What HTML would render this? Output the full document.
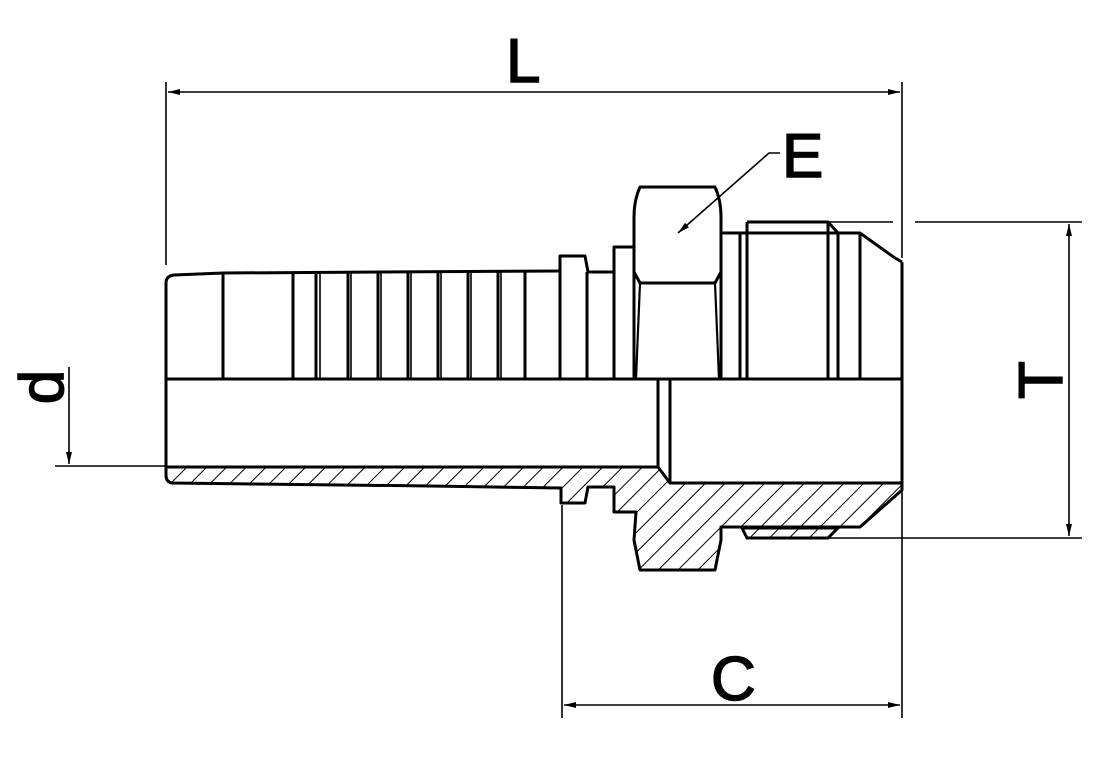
<!DOCTYPE html>
<html><head><meta charset="utf-8"><style>html,body{margin:0;padding:0;background:#fff}svg{display:block}text{font-family:"Liberation Sans",sans-serif;fill:#000;stroke:#000;stroke-width:1.5}</style></head><body>
<svg width="1104" height="765" viewBox="0 0 1104 765" xmlns="http://www.w3.org/2000/svg">
<defs>
<pattern id="h" width="14" height="14" patternUnits="userSpaceOnUse" patternTransform="rotate(45)">
<line x1="0" y1="0" x2="0" y2="14" stroke="#000" stroke-width="2"/>
</pattern>
<marker id="a" viewBox="0 0 12 6" refX="12" refY="3" markerWidth="12" markerHeight="6" markerUnits="userSpaceOnUse" orient="auto-start-reverse"><path d="M0,0 L12,3 L0,6 Z" fill="#000"/></marker>
</defs>
<g fill="none" stroke="#000" stroke-width="1.6">
<line x1="166" y1="82" x2="166" y2="265"/>
<line x1="902" y1="82" x2="902" y2="258"/>
<line x1="168" y1="92" x2="900" y2="92" marker-start="url(#a)" marker-end="url(#a)"/>
<polyline points="780,153 769,153 678,233" marker-end="url(#a)"/>
<line x1="828" y1="222" x2="893" y2="222"/>
<line x1="915" y1="222" x2="1082" y2="222"/>
<line x1="828" y1="538" x2="1082" y2="538"/>
<line x1="1069" y1="224" x2="1069" y2="536" marker-start="url(#a)" marker-end="url(#a)"/>
<line x1="55" y1="466" x2="166" y2="466"/>
<line x1="69" y1="367" x2="69" y2="464" marker-end="url(#a)"/>
<line x1="562" y1="505" x2="562" y2="718"/>
<line x1="902" y1="490" x2="902" y2="718"/>
<line x1="564" y1="705" x2="900" y2="705" marker-start="url(#a)" marker-end="url(#a)"/>
</g>
<path d="M166,467 L658,467 L670,483 L902,483 L902,490 L860,527 L721,527 L721,540 L715,570 L640,570 L634,540 L636,512 L614,512 L614,487 L588,487 L585,503 L561,503 L561,488 L430,486 L172,483 Q166,482 166,475 Z" fill="url(#h)" stroke="#000" stroke-width="3" stroke-linejoin="round"/>
<path d="M742,528 L747,538 L828,538 L838,528 Z" fill="url(#h)" stroke="#000" stroke-width="3"/>
<g fill="none" stroke="#000" stroke-width="3" stroke-linejoin="round">
<path d="M166,467 L166,283 Q166,276 174,275 L223,273 L560,271"/>
<line x1="166" y1="379" x2="902" y2="379"/>
<path d="M560,379 L560,256 L585,256 L588,272 L614,272 L614,247 L634,247"/>
<g>
<line x1="223" y1="273" x2="223" y2="379"/>
<line x1="293" y1="273" x2="293" y2="379"/>
<line x1="316" y1="272" x2="316" y2="379"/>
<line x1="348" y1="272" x2="348" y2="379"/>
<line x1="378" y1="272" x2="378" y2="379"/>
<line x1="408" y1="272" x2="408" y2="379"/>
<line x1="438" y1="272" x2="438" y2="379"/>
<line x1="468" y1="272" x2="468" y2="379"/>
<line x1="498" y1="272" x2="498" y2="379"/>
<line x1="525" y1="272" x2="525" y2="379"/>
<line x1="587" y1="272" x2="587" y2="379"/>
<line x1="614" y1="272" x2="614" y2="379"/>
</g>
<g stroke-width="1.6">
<line x1="320" y1="272" x2="320" y2="379"/>
<line x1="351" y1="272" x2="351" y2="379"/>
<line x1="381" y1="272" x2="381" y2="379"/>
<line x1="411" y1="272" x2="411" y2="379"/>
<line x1="441" y1="272" x2="441" y2="379"/>
<line x1="471" y1="272" x2="471" y2="379"/>
<line x1="501" y1="272" x2="501" y2="379"/>
</g>
<path d="M634,379 L634,217 Q634,200 640,187 L715,187 Q721,200 721,217 L721,379"/>
<path d="M634,272 L640,283 L715,283 L721,272"/>
<path d="M640,283 L636,379 M715,283 L719,379" stroke-width="2.2"/>
<line x1="658" y1="379" x2="658" y2="467"/>
<line x1="670" y1="379" x2="670" y2="483"/>
<line x1="902" y1="262" x2="902" y2="490"/>
<path d="M721,233 L860,233 L895,258 L902,262"/>
<path d="M740,233 L740,379 M747,222 L747,379 M747,222 L828,222 L838,233 M828,222 L828,379 M838,233 L838,379 M860,233 L860,379"/>
</g>
<text x="506" y="82" font-size="62">L</text>
<text x="782" y="177" font-size="62">E</text>
<text x="711" y="700" font-size="62">C</text>
<text transform="translate(1062,380) rotate(-90)" font-size="62" text-anchor="middle">T</text>
<text transform="translate(63,387) rotate(-90)" font-size="62" text-anchor="middle">d</text>
</svg>
</body></html>
